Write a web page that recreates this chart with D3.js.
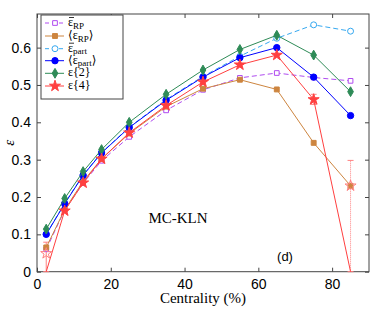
<!DOCTYPE html>
<html>
<head>
<meta charset="utf-8">
<script src="https://cdn.jsdelivr.net/npm/d3@7"></script>
<style>
  body { margin: 0; background: #fff; }
  svg { display: block; }
</style>
</head>
<body>
<div id="chart"></div>
<script>
// centrality bin centres (%)
const centrality = [2.5, 7.5, 12.5, 17.5, 25, 35, 45, 55, 65, 75, 85];

const epsBarRP   = [0.060, 0.165, 0.237, 0.297, 0.361, 0.432, 0.487, 0.519, 0.532, 0.520, 0.511];
const epsAvgRP   = [0.065, 0.166, 0.242, 0.302, 0.370, 0.442, 0.490, 0.514, 0.488, 0.345, 0.230];
const epsBarPart = [0.101, 0.183, 0.259, 0.319, 0.387, 0.461, 0.523, 0.577, 0.625, 0.661, 0.644];
const epsAvgPart = [0.100, 0.182, 0.258, 0.318, 0.386, 0.459, 0.521, 0.573, 0.600, 0.521, 0.418];
const eps2       = [0.114, 0.196, 0.268, 0.327, 0.400, 0.475, 0.540, 0.595, 0.633, 0.580, 0.482];
const eps4       = [0.000, 0.163, 0.238, 0.302, 0.372, 0.445, 0.508, 0.554, 0.580, 0.461, 0.000];
const eps4ErrLo  = [0.000, 0.163, 0.238, 0.302, 0.372, 0.445, 0.508, 0.554, 0.580, 0.448, 0.000];
const eps4ErrHi  = [0.079, 0.163, 0.238, 0.302, 0.372, 0.445, 0.508, 0.554, 0.580, 0.475, 0.298];

// open-star estimates where eps{4} is not real
const eps4OpenX  = [2.5, 85];
const eps4OpenY  = [0.049, 0.230];

const xTicks = [0, 20, 40, 60, 80];
const yTicks = [0, 0.1, 0.2, 0.3, 0.4, 0.5, 0.6];

const width = 374, height = 309;
const svg = d3.select("#chart").append("svg")
  .attr("width", width).attr("height", height);

const x = d3.scaleLinear().domain([0, 90]).range([37, 369]);
const y = d3.scaleLinear().domain([0, 0.69]).range([271.7, 14]);

const axisColor = "#444";
const sans = "'Liberation Sans', Arial, sans-serif";
const serif = "'Liberation Serif', 'DejaVu Serif', serif";

// frame
svg.append("rect")
  .attr("x", x(0)).attr("y", y(0.69))
  .attr("width", x(90) - x(0)).attr("height", y(0) - y(0.69))
  .attr("fill", "none").attr("stroke", axisColor).attr("stroke-width", 1);

function styleAxis(g, labels) {
  g.select(".domain").remove();
  g.selectAll(".tick line").attr("stroke", axisColor);
  g.selectAll(".tick text")
    .attr("fill", labels ? "#000" : "none")
    .style("font-family", sans).style("font-size", "14px");
}

svg.append("g").attr("transform", `translate(0,${y(0)})`)
  .call(d3.axisBottom(x).tickValues(xTicks).tickSize(-4).tickPadding(7).tickFormat(d3.format("d")))
  .call(g => styleAxis(g, true));
svg.append("g").attr("transform", `translate(0,${y(0.69)})`)
  .call(d3.axisTop(x).tickValues(xTicks).tickSize(-4).tickFormat(""))
  .call(g => styleAxis(g, false));
svg.append("g").attr("transform", `translate(${x(0)},0)`)
  .call(d3.axisLeft(y).tickValues(yTicks).tickSize(-4).tickPadding(6).tickFormat(d => d === 0 ? "0" : d3.format(".1f")(d)))
  .call(g => styleAxis(g, true));
svg.append("g").attr("transform", `translate(${x(90)},0)`)
  .call(d3.axisRight(y).tickValues(yTicks).tickSize(-4).tickFormat(""))
  .call(g => styleAxis(g, false));

// axis titles
svg.append("text")
  .attr("x", 203).attr("y", 303)
  .attr("text-anchor", "middle")
  .style("font-family", serif).style("font-size", "15px")
  .text("Centrality (%)");
svg.append("text")
  .attr("transform", `translate(14,${(y(0) + y(0.69)) / 2}) rotate(-90)`)
  .attr("text-anchor", "middle")
  .style("font-family", serif).style("font-size", "15px").style("font-style", "italic")
  .text("ε");

const series = [
  { name: "barRP",   vals: epsBarRP,   color: "#b04cf0", dash: "5,3", sym: d3.symbolSquare,  size: 22, fill: false },
  { name: "avgRP",   vals: epsAvgRP,   color: "#cd853f", dash: null,  sym: d3.symbolSquare,  size: 24, fill: true },
  { name: "barPart", vals: epsBarPart, color: "#35a8f0", dash: "5,3", sym: d3.symbolCircle,  size: 28, fill: false },
  { name: "avgPart", vals: epsAvgPart, color: "#0000ff", dash: null,  sym: d3.symbolCircle,  size: 32, fill: true },
  { name: "eps2",    vals: eps2,       color: "#2e8b57", dash: null,  sym: d3.symbolDiamond, size: 28, fill: true },
  { name: "eps4",    vals: eps4,       color: "#ff4040", dash: null,  sym: d3.symbolStar,    size: 38, fill: true }
];

const line = d3.line().x(d => x(d[0])).y(d => y(d[1]));

// eps{4} error bars
const errColor = "#ff8080";
const capW = 3;
centrality.forEach((c, i) => {
  const lo = eps4ErrLo[i], hi = eps4ErrHi[i];
  if (hi - lo < 0.005) return;
  const g = svg.append("g").attr("stroke", errColor).attr("stroke-width", 1);
  g.append("line").attr("x1", x(c)).attr("x2", x(c)).attr("y1", y(lo)).attr("y2", y(hi))
    .attr("stroke-dasharray", i === 10 ? "1,1" : null);
  g.append("line").attr("x1", x(c) - capW).attr("x2", x(c) + capW).attr("y1", y(lo)).attr("y2", y(lo));
  g.append("line").attr("x1", x(c) - capW).attr("x2", x(c) + capW).attr("y1", y(hi)).attr("y2", y(hi));
});

series.forEach(s => {
  const pts = centrality.map((c, i) => [c, s.vals[i]]);
  svg.append("path").datum(pts)
    .attr("d", line)
    .attr("fill", "none").attr("stroke", s.color).attr("stroke-width", 1)
    .attr("stroke-dasharray", s.dash);
  svg.selectAll(null).data(s.name === "eps4" ? pts.filter(p => p[1] > 0) : pts)
    .enter().append("path")
    .attr("transform", d => `translate(${x(d[0])},${y(d[1])})`)
    .attr("d", d3.symbol().type(s.sym).size(s.size))
    .attr("fill", s.fill ? s.color : "#fff")
    .attr("stroke", s.color).attr("stroke-width", 1);
});

// open stars for eps{4}
svg.selectAll(null).data(eps4OpenX.map((c, i) => [c, eps4OpenY[i]]))
  .enter().append("path")
  .attr("transform", d => `translate(${x(d[0])},${y(d[1])})`)
  .attr("d", d3.symbol().type(d3.symbolStar).size(38))
  .attr("fill", "none").attr("stroke", errColor).attr("stroke-width", 1);

// annotations
svg.append("text").attr("x", 178).attr("y", 223).attr("text-anchor", "middle")
  .style("font-family", serif).style("font-size", "15px").text("MC-KLN");
svg.append("text").attr("x", 285).attr("y", 261).attr("text-anchor", "middle")
  .style("font-family", sans).style("font-size", "13px").text("(d)");

// legend
const legend = svg.append("g");
legend.append("rect")
  .attr("x", 41).attr("y", 15).attr("width", 82).attr("height", 84)
  .attr("fill", "#fff").attr("stroke", axisColor).attr("stroke-width", 1);

const legendLabels = [
  { pre: "", main: "ε", bar: true,  sub: "RP",   post: "" },
  { pre: "⟨", main: "ε", bar: false, sub: "RP",   post: "⟩" },
  { pre: "", main: "ε", bar: true,  sub: "part", post: "" },
  { pre: "⟨", main: "ε", bar: false, sub: "part", post: "⟩" },
  { pre: "", main: "ε{2}", bar: false, sub: "", post: "" },
  { pre: "", main: "ε{4}", bar: false, sub: "", post: "" }
];
const legendY = [23, 36, 48.7, 60.7, 73.3, 86];

series.forEach((s, i) => {
  const ly = legendY[i];
  legend.append("line").attr("x1", 45).attr("x2", 64).attr("y1", ly).attr("y2", ly)
    .attr("stroke", s.color).attr("stroke-width", 1).attr("stroke-dasharray", s.dash ? "4,3" : null);
  legend.append("path").attr("transform", `translate(55,${ly})`)
    .attr("d", d3.symbol().type(s.sym).size(s.size))
    .attr("fill", s.fill ? s.color : "#fff").attr("stroke", s.color);
  const lab = legendLabels[i];
  const t = legend.append("text").attr("x", 68).attr("y", ly + 3)
    .style("font-family", serif).style("font-size", "12px");
  if (lab.pre) t.append("tspan").text(lab.pre);
  t.append("tspan").text(lab.main);
  if (lab.sub) t.append("tspan").attr("dy", 2.5).style("font-size", "9px").text(lab.sub);
  if (lab.post) t.append("tspan").attr("dy", -2.5).text(lab.post);
  if (lab.bar) {
    legend.append("line").attr("x1", 69).attr("x2", 74).attr("y1", ly - 5.5).attr("y2", ly - 5.5)
      .attr("stroke", "#000").attr("stroke-width", 0.8);
  }
});
</script>
</body>
</html>
